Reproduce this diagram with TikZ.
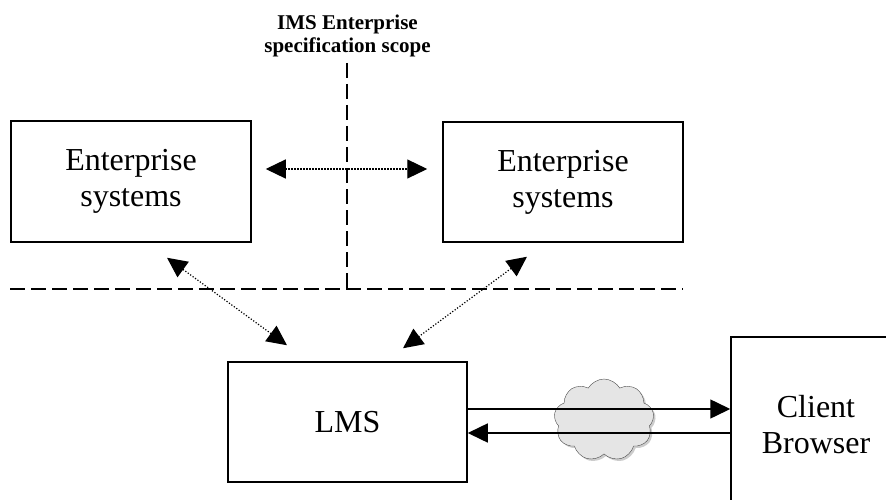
\documentclass[tikz,border=0pt]{standalone}
\usepackage{fontspec}
\setmainfont{Liberation Serif}
\usetikzlibrary{calc,arrows.meta,shapes.symbols,shadows}

\tikzset{
	sysbox/.style={draw, line width=1.5pt, align=center, font=\fontsize{32}{36}\selectfont},
	dashline/.style={line width=1.5pt, dash pattern=on 15pt off 6pt},
	dotarrow/.style={line width=1.2pt, dash pattern=on 1.2pt off 1.8pt, {Triangle[length=20pt,width=19pt]}-{Triangle[length=20pt,width=19pt]}},
	netarrow/.style={line width=1.5pt, -{Triangle[length=20pt,width=19pt]}}
}

\begin{document}
\begin{tikzpicture}[x=1pt, y=-1pt]
			%%%%% START %%%%%
			
			\clip (0, 0) rectangle (886, 500);
			
			\node[align=center, font=\bfseries\fontsize{21}{23}\selectfont] (scope) at (347.5, 36) {IMS Enterprise\\specification scope};
			
			\draw[dashline] (347, 63) -- (347, 289);
			\draw[dashline] (10, 289) -- (683, 289);
			
			\node[sysbox, minimum width=240, minimum height=121] (es1) at (131, 181.5) {Enterprise\\systems};
			\node[sysbox, minimum width=240, minimum height=120] (es2) at (563, 182) {Enterprise\\systems};
			\node[sysbox, minimum width=239, minimum height=120] (lms) at (347.5, 422) {LMS};
			\node[sysbox, minimum width=170, minimum height=175] (client) at (816, 424.5) {Client\\Browser};
			
			\node[cloud, cloud puffs=9, cloud puff arc=120, aspect=1.25, minimum width=100, minimum height=82, draw=black!70, fill=black!10, drop shadow={shadow xshift=2pt, shadow yshift=-2pt, fill=black!40}] (net) at (604, 420) {};
			
			\draw[dotarrow] ($(es1.east)+(14, -12.5)$) -- ($(es2.west)+(-15, -13)$);
			\draw[dotarrow] ($(es1.south)+(36, 15)$) -- ($(lms.north)+(-60.5, -16)$);
			\draw[dotarrow] ($(es2.south)+(-36, 14)$) -- ($(lms.north)+(55.5, -13)$);
			
			\draw[netarrow] ($(lms.east)+(0, -13)$) -- ($(client.west)+(0, -15.5)$);
			\draw[netarrow] ($(client.west)+(0, 8.5)$) -- ($(lms.east)+(0, 11)$);
			
			%%%%% END %%%%%
		\end{tikzpicture}
\end{document}
